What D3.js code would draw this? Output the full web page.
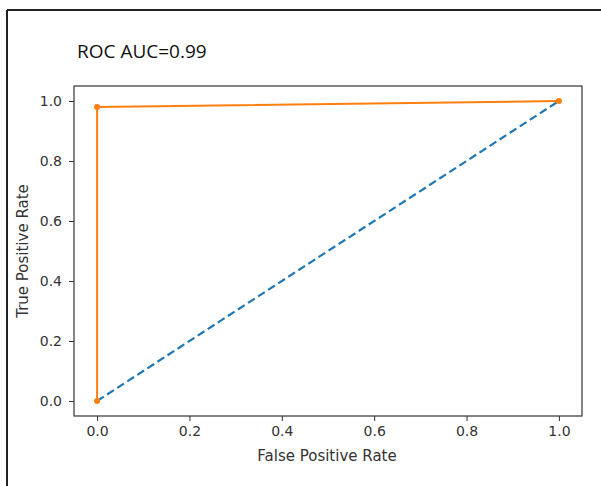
<!DOCTYPE html>
<html>
<head>
<meta charset="utf-8">
<script src="https://cdn.jsdelivr.net/npm/d3@7"></script>
<style>
  html, body { margin: 0; padding: 0; background: #fff; }
  svg { display: block; }
</style>
</head>
<body>
<svg id="chart" width="601" height="486"></svg>
<script>
// Data
const rocFpr = [0, 0, 1];
const rocTpr = [0, 0.98, 1];
const baseFpr = [0, 1];
const baseTpr = [0, 1];
const xTicks = [0.0, 0.2, 0.4, 0.6, 0.8, 1.0];
const yTicks = [0.0, 0.2, 0.4, 0.6, 0.8, 1.0];
const titleText = "ROC AUC=0.99";
const xLabel = "False Positive Rate";
const yLabel = "True Positive Rate";

const svg = d3.select("#chart");
const W = 601, H = 486;
const plot = { left: 74, top: 86, right: 582, bottom: 416 };

// outer frame (left + top)
svg.append("line").attr("x1", 7).attr("y1", 10).attr("x2", W).attr("y2", 10)
  .attr("stroke", "#222").attr("stroke-width", 2);
svg.append("line").attr("x1", 7).attr("y1", 10).attr("x2", 7).attr("y2", H)
  .attr("stroke", "#222").attr("stroke-width", 2);

svg.append("text").attr("x", 77).attr("y", 58)
  .attr("font-family", "'Open Sans', 'Noto Sans', sans-serif")
  .attr("font-size", 19).attr("fill", "#111")
  .text(titleText);

const x = d3.scaleLinear().domain([-0.05, 1.05]).range([plot.left, plot.right]);
const y = d3.scaleLinear().domain([-0.05, 1.05]).range([plot.bottom, plot.top]);

const fontFam = "'DejaVu Sans', sans-serif";

const xAxis = svg.append("g").attr("transform", `translate(0,${plot.bottom})`)
  .call(d3.axisBottom(x).tickValues(xTicks).tickFormat(d3.format(".1f")).tickSize(5).tickPadding(5));
const yAxis = svg.append("g").attr("transform", `translate(${plot.left},0)`)
  .call(d3.axisLeft(y).tickValues(yTicks).tickFormat(d3.format(".1f")).tickSize(5).tickPadding(7));
[xAxis, yAxis].forEach(g => {
  g.select(".domain").remove();
  g.selectAll(".tick line").attr("stroke", "#333").attr("stroke-width", 1);
  g.selectAll(".tick text").attr("font-family", fontFam).attr("font-size", 14).attr("fill", "#333");
});

// baseline dashed
const line = d3.line().x(d => x(d[0])).y(d => y(d[1]));
svg.append("path")
  .datum(baseFpr.map((v, i) => [v, baseTpr[i]]))
  .attr("d", line).attr("fill", "none")
  .attr("stroke", "#1f77b4").attr("stroke-width", 2.2)
  .attr("stroke-dasharray", "8,4");

// ROC curve
const rocPts = rocFpr.map((v, i) => [v, rocTpr[i]]);
svg.append("path").datum(rocPts).attr("d", line).attr("fill", "none")
  .attr("stroke", "#ff7f0e").attr("stroke-width", 2);
svg.selectAll("circle.m").data(rocPts).enter().append("circle")
  .attr("cx", d => x(d[0])).attr("cy", d => y(d[1])).attr("r", 3)
  .attr("fill", "#ff7f0e");

// plot frame
svg.append("rect").attr("x", plot.left).attr("y", plot.top)
  .attr("width", plot.right - plot.left).attr("height", plot.bottom - plot.top)
  .attr("fill", "none").attr("stroke", "#333").attr("stroke-width", 1.2);

svg.append("text").attr("x", 327).attr("y", 461)
  .attr("text-anchor", "middle").attr("font-family", fontFam).attr("font-size", 15).attr("fill", "#333")
  .text(xLabel);
svg.append("text").attr("transform", `translate(28,${(plot.top + plot.bottom) / 2}) rotate(-90)`)
  .attr("text-anchor", "middle").attr("font-family", fontFam).attr("font-size", 15).attr("fill", "#333")
  .text(yLabel);
</script>
</body>
</html>
